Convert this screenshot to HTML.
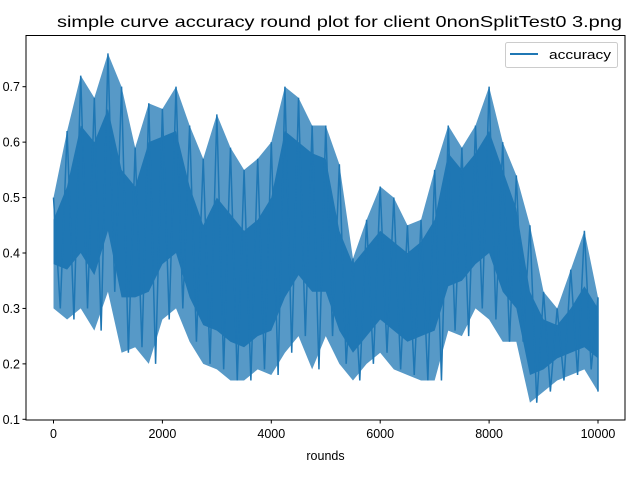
<!DOCTYPE html>
<html><head><meta charset="utf-8"><style>
body{margin:0;background:#fff;width:640px;height:480px;overflow:hidden}
svg text{font-family:"Liberation Sans","DejaVu Sans",sans-serif;fill:#000}
</style></head><body>
<svg id="c" width="640" height="480">
<text x="57" y="27" font-size="16" textLength="565" lengthAdjust="spacingAndGlyphs">simple curve accuracy round plot for client 0nonSplitTest0 3.png</text>
<g id="plot"></g>
<rect x="26" y="35.5" width="599" height="384.5" fill="none" stroke="#000" stroke-width="1"/>
<text x="325.5" y="460" font-size="12.5" text-anchor="middle">rounds</text>
<g id="axes"></g>
<g>
<rect x="505.5" y="42.5" width="112" height="25" rx="2" fill="#fff" fill-opacity="0.8" stroke="#ccc"/>
<line x1="510" y1="54" x2="538" y2="54" stroke="#1f77b4" stroke-width="2"/>
<text x="549" y="59" font-size="12.5" textLength="62" lengthAdjust="spacingAndGlyphs">accuracy</text>
</g>
</svg>
<script>
const rounds=[0,250,500,750,1000,1250,1500,1750,2000,2250,2500,2750,3000,3250,3500,3750,4000,4250,4500,4750,5000,5250,5500,5750,6000,6250,6500,6750,7000,7250,7500,7750,8000,8250,8500,8750,9000,9250,9500,9750,10000];
const peakHi=[0.50,0.62,0.72,0.68,0.76,0.70,0.59,0.67,0.66,0.70,0.63,0.57,0.65,0.59,0.55,0.57,0.60,0.70,0.68,0.63,0.63,0.56,0.39,0.46,0.52,0.50,0.45,0.46,0.55,0.63,0.59,0.63,0.70,0.60,0.54,0.45,0.33,0.30,0.37,0.44,0.32];
const peakLo=[0.30,0.28,0.30,0.26,0.33,0.22,0.23,0.20,0.28,0.30,0.24,0.20,0.19,0.17,0.17,0.19,0.18,0.22,0.25,0.19,0.25,0.20,0.17,0.20,0.22,0.19,0.18,0.17,0.17,0.26,0.25,0.30,0.28,0.24,0.24,0.13,0.15,0.17,0.18,0.19,0.15];
const coreHi=[0.46,0.52,0.63,0.60,0.66,0.55,0.52,0.60,0.61,0.62,0.52,0.45,0.50,0.47,0.44,0.46,0.50,0.62,0.60,0.58,0.57,0.44,0.38,0.41,0.44,0.42,0.40,0.42,0.46,0.58,0.55,0.58,0.62,0.55,0.48,0.33,0.28,0.27,0.30,0.34,0.30];
const coreLo=[0.38,0.37,0.40,0.36,0.44,0.32,0.32,0.33,0.38,0.40,0.32,0.27,0.26,0.24,0.23,0.25,0.26,0.32,0.36,0.33,0.33,0.26,0.22,0.25,0.28,0.26,0.24,0.25,0.26,0.34,0.35,0.38,0.40,0.33,0.30,0.18,0.19,0.21,0.22,0.23,0.21];
const xTicks=[0,2000,4000,6000,8000,10000];
const yTicks=[0.1,0.2,0.3,0.4,0.5,0.6,0.7];
const X=v=>53.5+v*(598-53.5)/10000;
const Y=v=>419.3-(v-0.1)*(419.3-86.7)/0.6;
const NS='http://www.w3.org/2000/svg';
const plot=document.getElementById('plot'),axes=document.getElementById('axes');
function band(hi,lo,name,op){
  let pts=rounds.map((r,i)=>X(r)+','+Y(hi[i]));
  for(let i=rounds.length-1;i>=0;i--)pts.push(X(rounds[i])+','+Y(lo[i]));
  const p=document.createElementNS(NS,'polygon');
  p.setAttribute('points',pts.join(' '));p.setAttribute('fill','#1f77b4');p.setAttribute('opacity',op);
  
  
  plot.appendChild(p);
}
band(peakHi,peakLo,'spike-band','0.75');
band(coreHi,coreLo,'core-band','1');
let d='';
rounds.forEach((r,i)=>{d+=(i?'L':'M')+X(r)+','+Y(peakHi[i])+'L'+X(r+(i<rounds.length-1?125:0))+','+Y(peakLo[i]);});
const line=document.createElementNS(NS,'path');
line.setAttribute('d',d);line.setAttribute('fill','none');line.setAttribute('stroke','#1f77b4');line.setAttribute('stroke-width','1.5');


plot.appendChild(line);
xTicks.forEach(t=>{
  const l=document.createElementNS(NS,'line');
  l.setAttribute('x1',X(t));l.setAttribute('x2',X(t));l.setAttribute('y1',420);l.setAttribute('y2',423.5);l.setAttribute('stroke','#000');
  
  
  axes.appendChild(l);
  const tx=document.createElementNS(NS,'text');
  tx.setAttribute('x',X(t));tx.setAttribute('y',438);tx.setAttribute('font-size','12.5');tx.setAttribute('text-anchor','middle');tx.textContent=t;
  
  
  axes.appendChild(tx);
});
yTicks.forEach(t=>{
  const l=document.createElementNS(NS,'line');
  l.setAttribute('x1',22.5);l.setAttribute('x2',26);l.setAttribute('y1',Y(t));l.setAttribute('y2',Y(t));l.setAttribute('stroke','#000');
  
  
  axes.appendChild(l);
  const tx=document.createElementNS(NS,'text');
  tx.setAttribute('x',20);tx.setAttribute('y',Y(t)+4.5);tx.setAttribute('font-size','12.5');tx.setAttribute('text-anchor','end');tx.textContent=t.toFixed(1);
  
  
  axes.appendChild(tx);
});
</script>
</body></html>
